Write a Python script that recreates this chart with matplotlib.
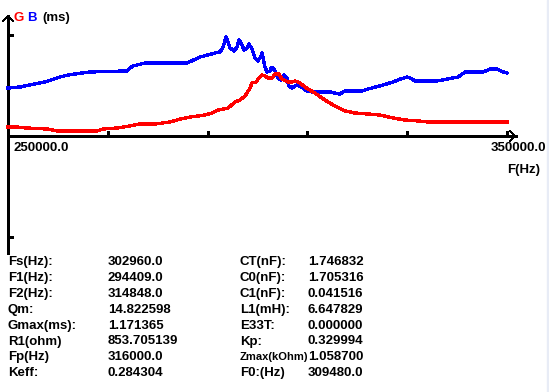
import matplotlib
matplotlib.use("Agg")
import matplotlib.pyplot as plt

# G / B curves (frequency in kHz, value in axis units: tick = 1)
freq_b = [250.0, 252.4, 257.4, 260.4, 262.0, 266.4, 273.8, 275.0, 277.5, 285.9,
          288.5, 291.5, 292.5, 293.1, 293.7, 294.1, 294.5, 295.3, 295.9, 296.3,
          296.7, 297.3, 297.9, 298.3, 298.9, 299.5, 300.1, 300.7, 300.9, 301.1,
          301.5, 301.9, 302.5, 302.7, 303.1, 303.5, 304.1, 304.7, 305.3, 305.9,
          306.3, 306.9, 307.9, 309.1, 309.9, 311.1, 314.5, 315.5, 316.5, 317.5,
          320.9, 322.1, 324.5, 327.2, 328.6, 330.0, 330.6, 331.6, 336.0, 338.0,
          340.2, 341.6, 345.2, 346.6, 348.0, 349.2, 350.0]
b_vals = [0.475, 0.485, 0.535, 0.584, 0.604, 0.634, 0.644, 0.693, 0.723, 0.723,
          0.782, 0.822, 0.832, 0.881, 0.980, 0.931, 0.871, 0.842, 0.881, 0.950,
          0.921, 0.851, 0.871, 0.911, 0.861, 0.772, 0.743, 0.792, 0.822, 0.782,
          0.683, 0.634, 0.644, 0.673, 0.673, 0.644, 0.574, 0.554, 0.604, 0.574,
          0.495, 0.475, 0.505, 0.475, 0.446, 0.436, 0.436, 0.426, 0.416, 0.446,
          0.446, 0.465, 0.495, 0.535, 0.564, 0.584, 0.574, 0.545, 0.545, 0.564,
          0.584, 0.634, 0.634, 0.663, 0.663, 0.634, 0.624]

freq_g = [250.0, 251.8, 253.8, 258.0, 259.8, 267.8, 269.0, 271.8, 274.4, 276.4,
          279.5, 282.5, 284.5, 286.5, 289.5, 290.9, 292.1, 294.1, 295.5, 296.5,
          297.5, 298.5, 298.9, 299.7, 300.3, 300.9, 301.5, 302.1, 302.9, 303.5,
          304.3, 304.9, 306.1, 306.9, 307.5, 308.1, 308.5, 309.5, 311.5, 313.5,
          315.5, 317.5, 319.5, 322.1, 324.5, 327.2, 329.6, 332.2, 334.2, 350.0]
g_vals = [0.089, 0.089, 0.079, 0.069, 0.050, 0.050, 0.069, 0.079, 0.099, 0.119,
          0.119, 0.139, 0.168, 0.188, 0.208, 0.228, 0.257, 0.277, 0.337, 0.356,
          0.396, 0.475, 0.525, 0.535, 0.574, 0.604, 0.594, 0.574, 0.574, 0.614,
          0.614, 0.564, 0.535, 0.535, 0.545, 0.535, 0.525, 0.485, 0.426, 0.356,
          0.297, 0.248, 0.228, 0.218, 0.208, 0.178, 0.158, 0.149, 0.139, 0.139]

x_ticks = [250, 270, 290, 310, 330, 350]
y_ticks = [1, -1]

labels_1 = ["Fs(Hz):", "F1(Hz):", "F2(Hz):", "Qm:", "Gmax(ms):", "R1(ohm)", "Fp(Hz)", "Keff:"]
values_1 = ["302960.0", "294409.0", "314848.0", "14.822598", "1.171365", "853.705139", "316000.0", "0.284304"]
labels_2 = ["CT(nF):", "C0(nF):", "C1(nF):", "L1(mH):", "E33T:", "Kp:", "Zmax(kOhm)", "F0:(Hz)"]
values_2 = ["1.746832", "1.705316", "0.041516", "6.647829", "0.000000", "0.329994", "1.058700", "309480.0"]

W, H = 549, 392
fig = plt.figure(figsize=(W / 100, H / 100), dpi=100)
fig.patch.set_facecolor("white")

# chart axes: 250 kHz at px 8, 350 kHz at px 507; 0 at py 136, 1 at py 35
ax = fig.add_axes([8 / W, (H - 136) / H, 499 / W, 101 / H])
ax.set_xlim(250, 350)
ax.set_ylim(0, 1)
ax.axis("off")

kw = dict(color="black", lw=0.9, antialiased=False, clip_on=False)
px = 100 / 499.0   # kHz per pixel
py = 1 / 101.0     # units per pixel

# axes lines
ax.plot([250, 250 + 508 * px], [0, 0], **kw)
ax.plot([250, 250], [-117 * py, 120 * py], **kw)
# arrow heads
ax.plot([250 - 5 * px, 250, 250 + 5 * px], [115 * py, 120 * py, 115 * py], **kw)
ax.plot([250 + 502 * px, 250 + 507 * px, 250 + 502 * px], [5 * py, 0, -5 * py], **kw)
# ticks
for t in x_ticks[1:]:
    ax.plot([t, t], [0, 4 * py], **kw)
for t in y_ticks:
    ax.plot([250, 250 + 4 * px], [t, t], **kw)

ax.plot(freq_b, b_vals, color="#0000ff", lw=1.7, antialiased=False, clip_on=False)
ax.plot(freq_g, g_vals, color="#ff0000", lw=1.7, antialiased=False, clip_on=False)

font = dict(family="Liberation Sans", weight="bold", fontsize=9.5, va="center")


def ftext(x, y, s, **k):
    fig.text(x / W, 1 - y / H, s, **{**font, **k})


ftext(13, 18, "G", color="#ff0000")
ftext(27, 18, "B", color="#0000ff")
ftext(42, 18, "(ms)", color="black")
ftext(13, 148, "%.1f" % (x_ticks[0] * 1000))
ftext(546, 148, "%.1f" % (x_ticks[-1] * 1000), ha="right")
ftext(507, 170, "F(Hz)")

for i in range(len(labels_1)):
    y = 262 + 15.9 * i
    ftext(8, y, labels_1[i])
    ftext(108, y, values_1[i])
    # the window font is narrow; shrink the long label so it stays clear of its value
    ftext(240, y, labels_2[i], fontsize=8 if len(labels_2[i]) > 8 else 9.5)
    ftext(308, y, values_2[i])

# right window border strip
fig.patches.append(plt.Rectangle((547 / W, 0), 2 / W, 1, transform=fig.transFigure,
                                 color="#e8ecf6", zorder=0))

fig.savefig("out.png", dpi=100)
